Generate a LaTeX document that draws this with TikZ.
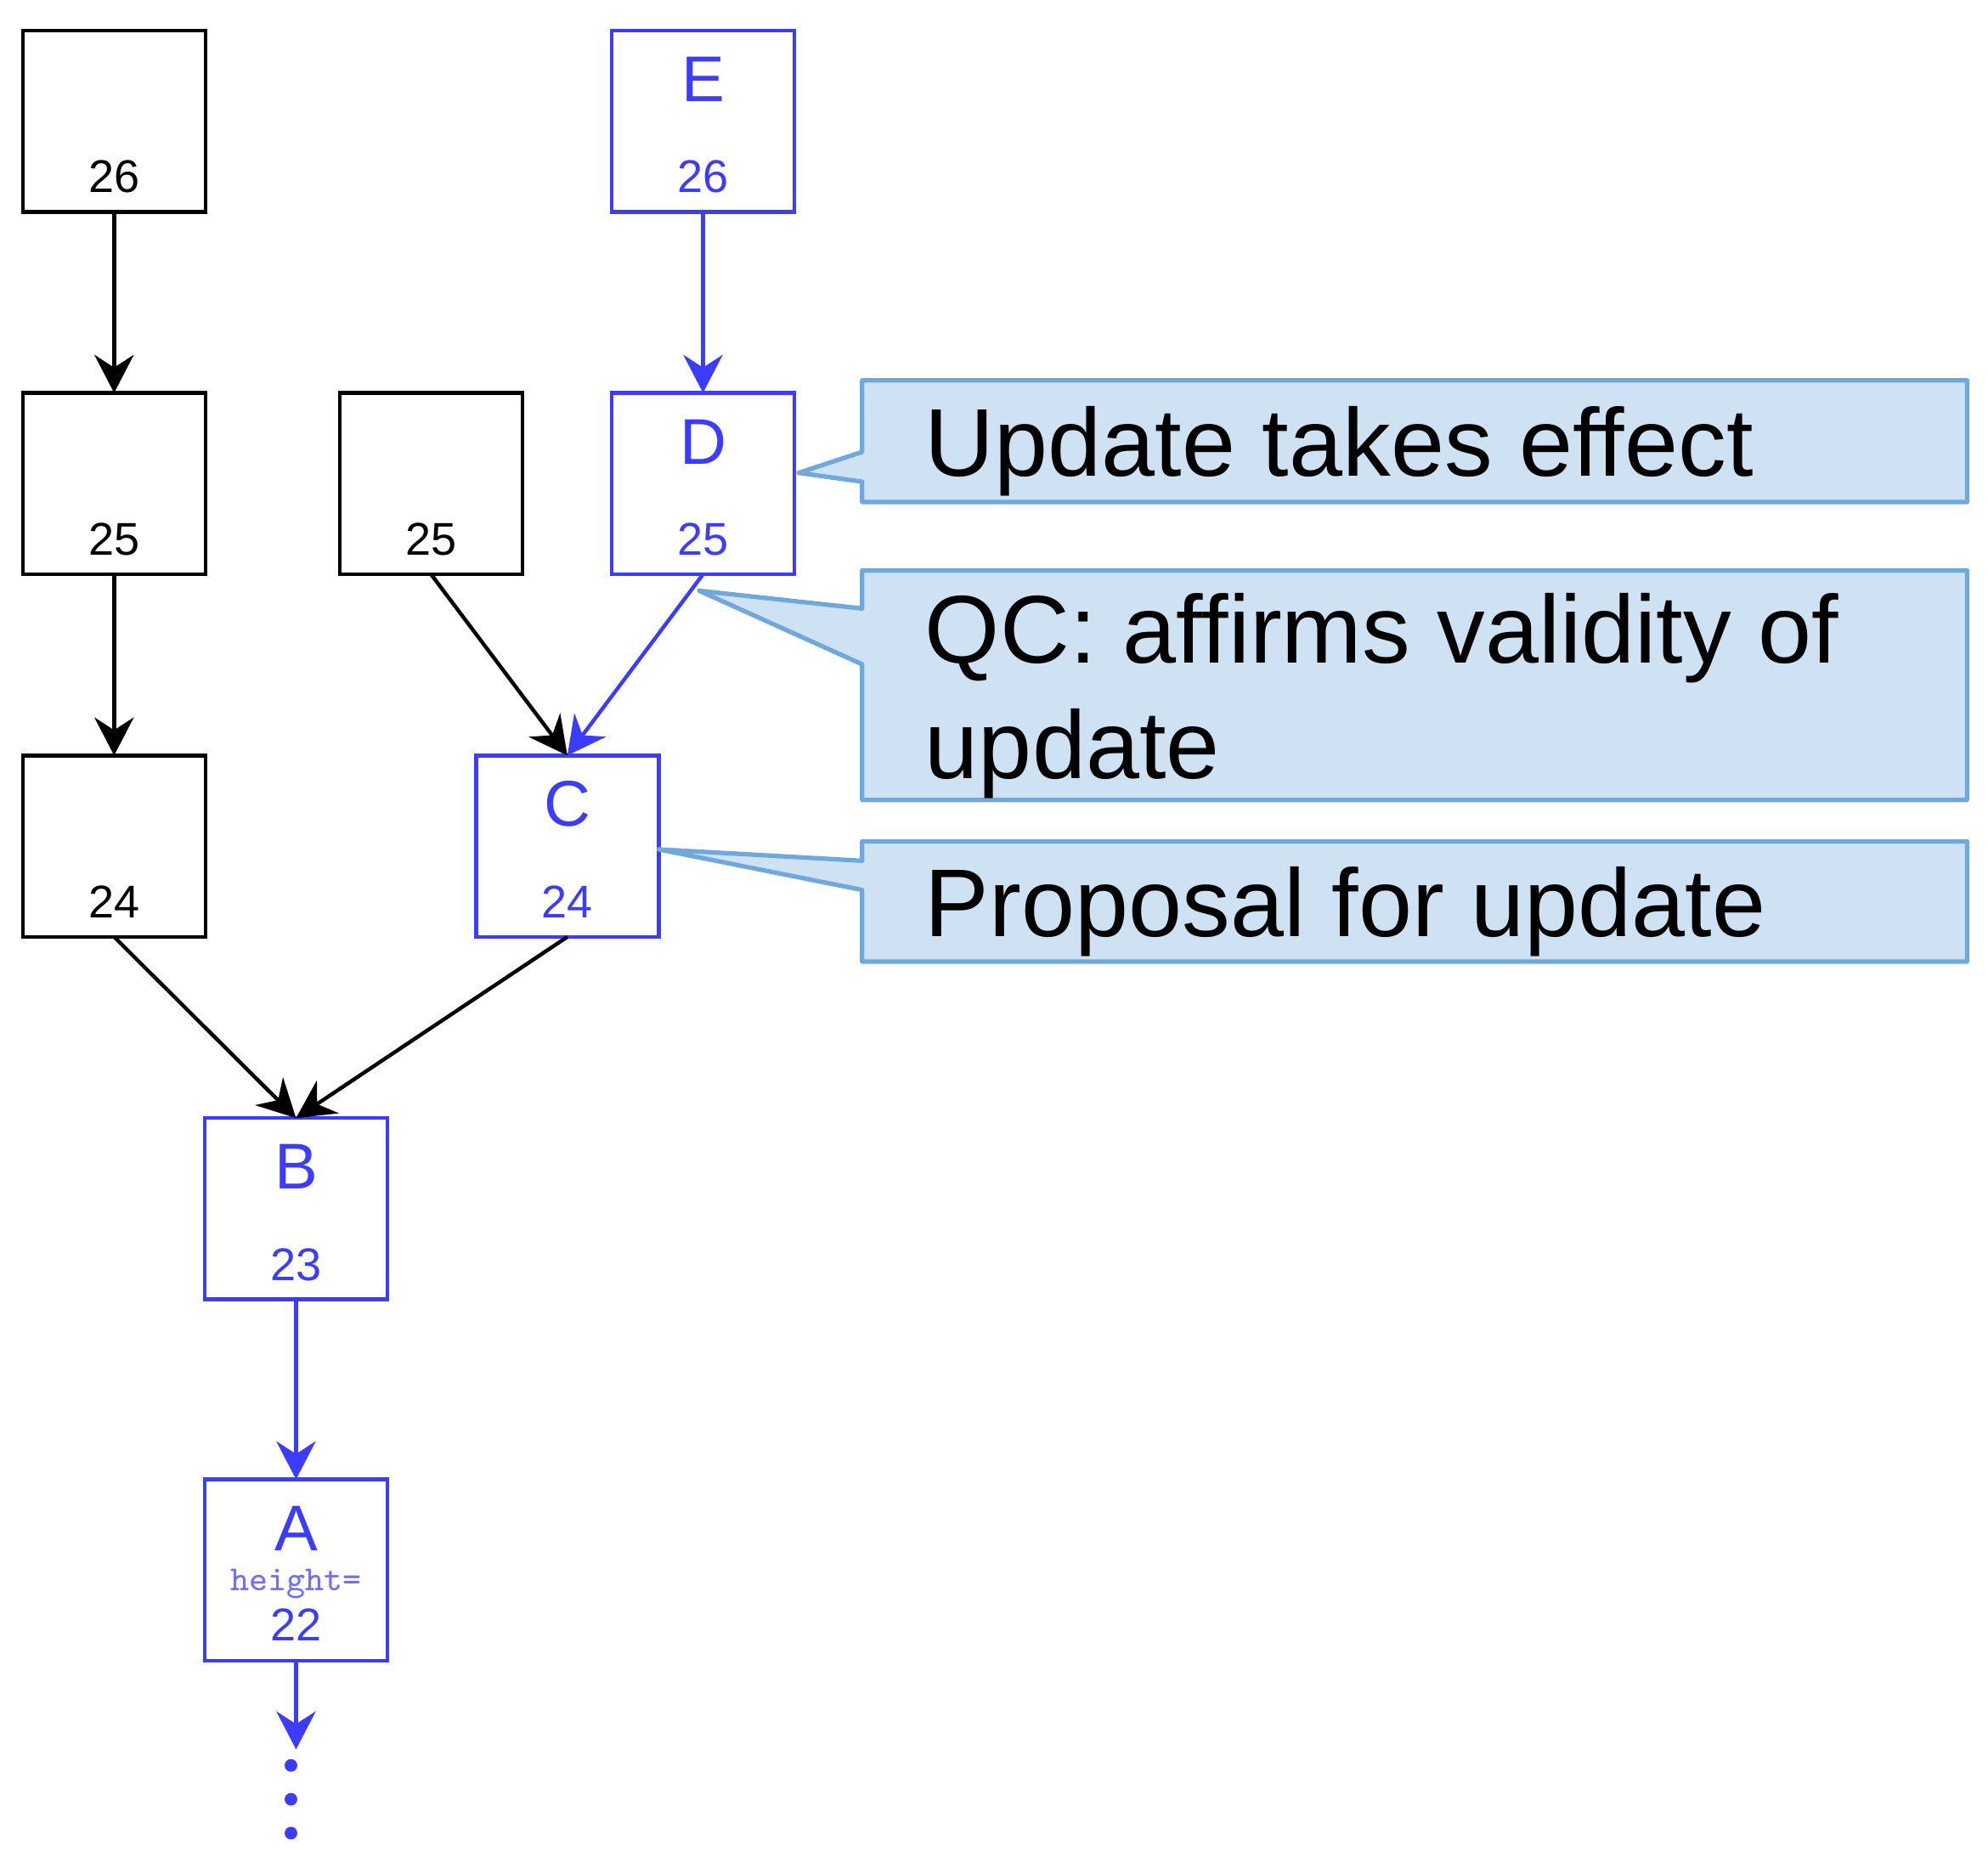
\documentclass[tikz,border=0pt]{standalone}
\usepackage{fontspec}
\setmainfont{Liberation Sans}
\usetikzlibrary{arrows.meta}
\definecolor{nodeblue}{HTML}{3C3CFF}
\definecolor{lightnb}{HTML}{7070FF}
\definecolor{callfill}{HTML}{CFE2F3}
\definecolor{calldraw}{HTML}{6FA8DC}
\begin{document}
\begin{tikzpicture}[x=0.01cm,y=-0.01cm,
  blk/.style={draw=black, line width=0.85pt, minimum width=1.44cm, minimum height=1.43cm, inner sep=0pt, outer sep=0pt},
  blu/.style={blk, draw=nodeblue},
  lett/.style={anchor=base, font=\fontsize{14.5}{16}\selectfont, inner sep=0pt},
  num/.style={anchor=base, font=\fontsize{10.3}{12}\selectfont, inner sep=0pt},
  arr/.style={-{Stealth[length=0.3cm,width=0.31cm,inset=0.1cm]}, line width=0.85pt},
  callout/.style={fill=callfill, draw=calldraw, line width=1pt, line join=round},
  calltext/.style={anchor=base west, font=\fontsize{21.6}{26}\selectfont, inner sep=0pt}
]
\useasboundingbox (0,0) rectangle (1568,1473);

% black boxes
\node[blk] (n26) at (90,95.5) {};
\node[blk] (n25a) at (90,381.5) {};
\node[blk] (n24) at (90,667.5) {};
\node[blk] (n25b) at (340,381.5) {};
\node[num] (n26t) at ([yshift=0.15cm]n26.south) {26};
\node[num] (n25at) at ([yshift=0.15cm]n25a.south) {25};
\node[num] (n24t) at ([yshift=0.15cm]n24.south) {24};
\node[num] (n25bt) at ([yshift=0.15cm]n25b.south) {25};

% blue boxes
\node[blu] (E) at (554.5,95.5) {};
\node[blu] (D) at (554.5,381.5) {};
\node[blu] (C) at (447.5,667.5) {};
\node[blu] (B) at (233.5,953.5) {};
\node[blu] (A) at (233.5,1238.5) {};
\begin{scope}[text=nodeblue]
\node[lett] (El) at ([yshift=-0.56cm]E.north) {E};
\node[lett] (Dl) at ([yshift=-0.56cm]D.north) {D};
\node[lett] (Cl) at ([yshift=-0.56cm]C.north) {C};
\node[lett] (Bl) at ([yshift=-0.56cm]B.north) {B};
\node[lett] (Al) at ([yshift=-0.56cm]A.north) {A};
\node[num] (En) at ([yshift=0.15cm]E.south) {26};
\node[num] (Dn) at ([yshift=0.15cm]D.south) {25};
\node[num] (Cn) at ([yshift=0.15cm]C.south) {24};
\node[num] (Bn) at ([yshift=0.15cm]B.south) {23};
\node[num] (An) at ([yshift=0.16cm]A.south) {22};
\node[anchor=base, inner sep=0pt, text=lightnb, font=\ttfamily\fontsize{7.9}{9}\selectfont] (Ah) at ([yshift=-0.88cm]A.north) {height=};
\end{scope}

% black connectors
\draw[arr] (n26) -- (n25a);
\draw[arr] (n25a) -- (n24);
\draw[arr] (n24.south) -- (B.north);
\draw[arr] (n25b.south) -- (C.north);
\draw[arr] (C.south) -- (B.north);

% blue connectors
\draw[arr, nodeblue] (E) -- (D);
\draw[arr, nodeblue] (D.south) -- (C.north);
\draw[arr, nodeblue] (B) -- (A);
\coordinate (more) at (233.5,1380);
\draw[arr, nodeblue] (A.south) -- (more);
\fill[nodeblue] (229.5,1392.6) circle[radius=0.05cm];
\fill[nodeblue] (229.5,1419.3) circle[radius=0.05cm];
\fill[nodeblue] (229.5,1446) circle[radius=0.05cm];

% callouts
\draw[callout] (680,300) -- (1551.5,300) -- (1551.5,396) -- (680,396) -- (680,380) -- (630,373) -- (680,356.5) -- cycle;
\draw[callout] (680,450) -- (1551.5,450) -- (1551.5,631) -- (680,631) -- (680,524) -- (551.5,466) -- (680,480) -- cycle;
\draw[callout] (680,663.7) -- (1551.5,663.7) -- (1551.5,758.6) -- (680,758.6) -- (680,702) -- (519.5,670) -- (680,679) -- cycle;
\node[calltext] (t1) at (729,375.7) {Update takes effect};
\node[calltext] (t2a) at (729,523) {QC: affirms validity of};
\node[calltext] (t2b) at (729,614) {update};
\node[calltext] (t3) at (729,738.5) {Proposal for update};
\end{tikzpicture}
\end{document}
